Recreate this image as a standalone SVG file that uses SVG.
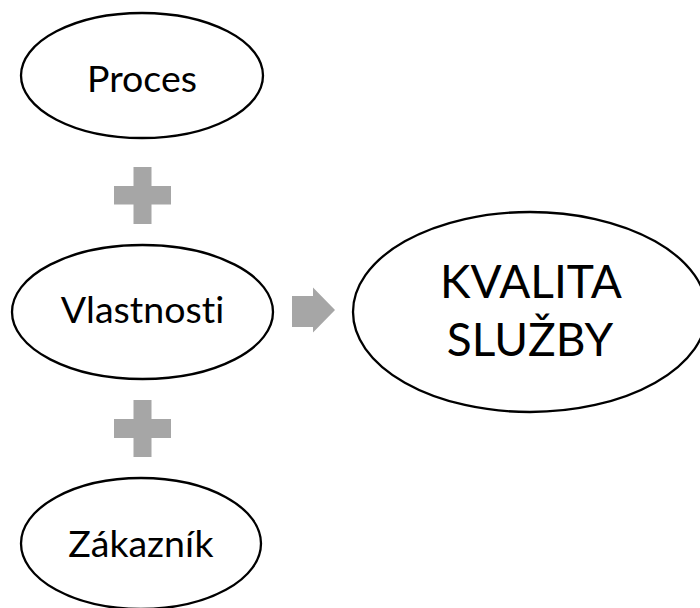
<svg xmlns="http://www.w3.org/2000/svg" width="700" height="608" viewBox="0 0 700 608">
<style>
.node ellipse{fill:#fff;stroke:#000;stroke-width:2.3}
.lbl{font-family:Lato,"Open Sans","Liberation Sans",sans-serif;font-size:37.5px;fill:#000;text-anchor:middle;font-variant-ligatures:none;font-feature-settings:"liga" 0,"clig" 0,"dlig" 0}
.big{font-size:46px}
.op{fill:#a6a6a6}
</style>
<rect width="700" height="608" fill="#fff"/>
<g id="proces" class="node">
<ellipse cx="142" cy="75.5" rx="121" ry="62.5"/>
<text class="lbl" x="142" y="91.5">Proces</text>
</g>
<g id="vlastnosti" class="node">
<ellipse cx="142.5" cy="312" rx="130.5" ry="67"/>
<text class="lbl" x="142.5" y="323">Vlastnosti</text>
</g>
<g id="zakaznik" class="node">
<ellipse cx="141" cy="543.5" rx="120" ry="65.5"/>
<text class="lbl" x="141" y="557">Zákazník</text>
</g>
<g id="kvalita" class="node">
<ellipse cx="530" cy="312" rx="177" ry="100"/>
<text class="lbl big" x="531" y="298">KVALITA</text>
<text class="lbl big" x="530" y="356">SLUŽBY</text>
</g>
<g id="connectors">
<path class="op" d="M133.5 167H151.5V186H171V204.5H151.5V224H133.5V204.5H114V186H133.5Z"/>
<path class="op" d="M133.5 400H151.5V419H171V438H151.5V457H133.5V438H114V419H133.5Z"/>
<path class="op" d="M292 296H313V287.5L335 310L313 332.5V327H292Z"/>
</g>
</svg>
